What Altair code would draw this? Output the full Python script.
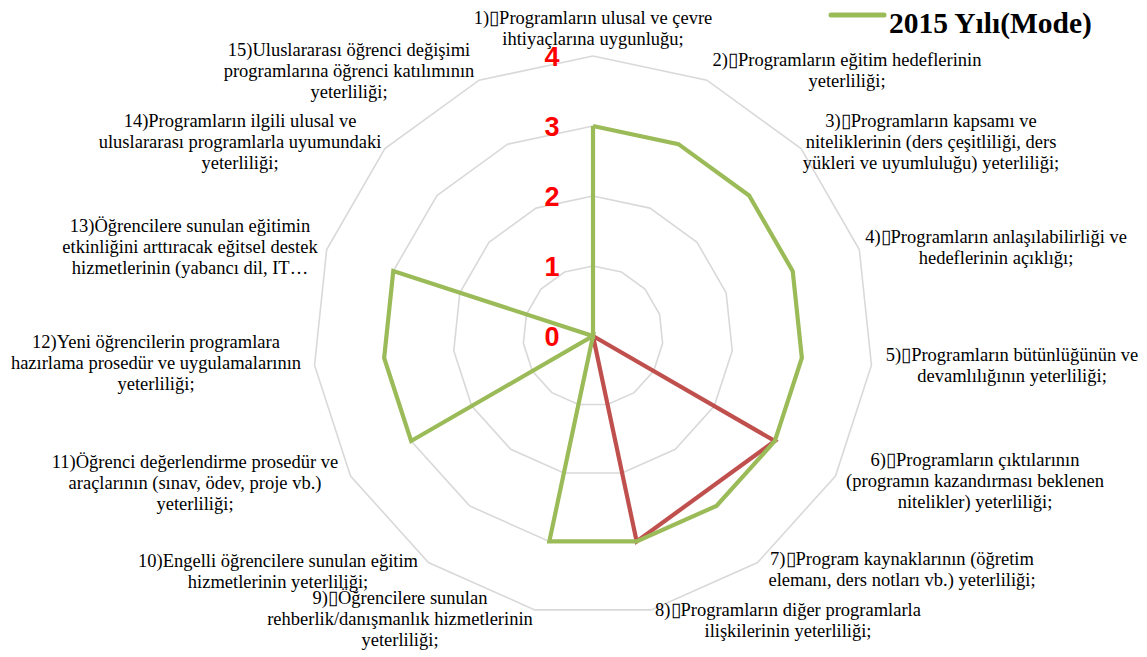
import altair as alt
import pandas as pd

BOX = "\u25af"

CATEGORIES = [
    f"1){BOX}Programların ulusal ve çevre\nihtiyaçlarına uygunluğu;",
    f"2){BOX}Programların eğitim hedeflerinin\nyeterliliği;",
    f"3){BOX}Programların kapsamı ve\nniteliklerinin (ders çeşitliliği, ders\nyükleri ve uyumluluğu) yeterliliği;",
    f"4){BOX}Programların anlaşılabilirliği ve\nhedeflerinin açıklığı;",
    f"5){BOX}Programların bütünlüğünün ve\ndevamlılığının yeterliliği;",
    f"6){BOX}Programların çıktılarının\n(programın kazandırması beklenen\nnitelikler) yeterliliği;",
    f"7){BOX}Program kaynaklarının (öğretim\nelemanı, ders notları vb.)   yeterliliği;",
    f"8){BOX}Programların diğer programlarla\nilişkilerinin yeterliliği;",
    f"9){BOX}Öğrencilere sunulan\nrehberlik/danışmanlık hizmetlerinin\nyeterliliği;",
    "10)Engelli öğrencilere sunulan eğitim\nhizmetlerinin yeterliliği;",
    "11)Öğrenci değerlendirme prosedür ve\naraçlarının (sınav, ödev, proje vb.)\nyeterliliği;",
    "12)Yeni öğrencilerin programlara\nhazırlama prosedür ve uygulamalarının\nyeterliliği;",
    "13)Öğrencilere sunulan eğitimin\netkinliğini arttıracak eğitsel destek\nhizmetlerinin (yabancı dil, IT…",
    "14)Programların ilgili ulusal ve\nuluslararası programlarla uyumundaki\nyeterliliği;",
    "15)Uluslararası öğrenci değişimi\nprogramlarına öğrenci katılımının\nyeterliliği;",
]

GREEN_2015 = [3, 3, 3, 3, 3, 3, 3, 3, 3, 0, 3, 3, 3, 0, 0]
RED_SERIES = [0, 0, 0, 0, 0, 3, None, 3, 0, 0, 0, 0, 0, 0, 0]
RING_VALUES = [1, 2, 3, 4]
TICK_LABELS = [0, 1, 2, 3, 4]
LEGEND_LABEL = "2015 Yılı(Mode)"

SERIF = "Liberation Serif, Times New Roman, serif"
SANS = "Liberation Sans, Arial, sans-serif"

# ---------------- layout (pixels on the page) ----------------
W, H = 1131, 649
PAGE_OFF = 8
CX, CY = 593 - PAGE_OFF, 336 - PAGE_OFF
UNIT = 70.0
N = len(CATEGORIES)

LABEL_ANCHORS = [  # page pixel centre of the first line of each label
    (593, 18), (847, 60), (931, 121), (996, 237), (1012, 355),
    (975, 460), (902, 559), (788, 610), (400, 598), (278, 561),
    (195, 462), (156, 342), (190, 226), (240, 121), (349, 50),
]


def ux(px):
    return (px - PAGE_OFF - CX) / UNIT


def uy(py):
    return (CY - (py - PAGE_OFF)) / UNIT


xs = alt.Scale(domain=[-CX / UNIT, (W - CX) / UNIT], nice=False, zero=False)
ys = alt.Scale(domain=[-(H - CY) / UNIT, CY / UNIT], nice=False, zero=False)

polar = dict(
    x="datum.r * sin(2 * PI * datum.idx / %d)" % N,
    y="datum.r * cos(2 * PI * datum.idx / %d)" % N,
)

# rings
ring_rows = [{"ring": v, "idx": i, "r": v} for v in RING_VALUES for i in range(N + 1)]
rings = (
    alt.Chart(pd.DataFrame(ring_rows))
    .transform_calculate(**polar)
    .mark_line(color="#D9D9D9", strokeWidth=1.6)
    .encode(
        x=alt.X("x:Q", scale=xs, axis=None),
        y=alt.Y("y:Q", scale=ys, axis=None),
        detail="ring:N",
        order="idx:Q",
    )
)


def series_rows(vals):
    rows = []
    for i in range(N + 1):
        v = vals[i % N]
        if v is None:
            continue
        rows.append({"idx": i, "r": v})
    return pd.DataFrame(rows)


def series_line(vals, color):
    return (
        alt.Chart(series_rows(vals))
        .transform_calculate(**polar)
        .mark_line(color=color, strokeWidth=4.2, strokeJoin="miter")
        .encode(
            x=alt.X("x:Q", scale=xs, axis=None),
            y=alt.Y("y:Q", scale=ys, axis=None),
            order="idx:Q",
        )
    )


red = series_line(RED_SERIES, "#C0504D")
green = series_line(GREEN_2015, "#9BBB59")

# radial tick labels
tick_df = pd.DataFrame({"v": TICK_LABELS, "lbl": [str(t) for t in TICK_LABELS]})
ticks = (
    alt.Chart(tick_df)
    .transform_calculate(tx=str(ux(552)), ty="datum.v - %f" % (1.5 / UNIT))
    .mark_text(color="#FF0000", font=SANS, fontWeight="bold", fontSize=27,
               align="center", baseline="middle")
    .encode(
        x=alt.X("tx:Q", scale=xs, axis=None),
        y=alt.Y("ty:Q", scale=ys, axis=None),
        text="lbl:N",
    )
)

# category labels
lab_df = pd.DataFrame({
    "label": CATEGORIES,
    "lx": [ux(p[0]) for p in LABEL_ANCHORS],
    "ly": [uy(p[1]) for p in LABEL_ANCHORS],
})
labels = (
    alt.Chart(lab_df)
    .mark_text(font=SERIF, fontSize=18.5, lineHeight=21, color="#000000",
               align="center", baseline="middle", lineBreak="\n")
    .encode(
        x=alt.X("lx:Q", scale=xs, axis=None),
        y=alt.Y("ly:Q", scale=ys, axis=None),
        text="label:N",
    )
)

# legend
leg_line_df = pd.DataFrame({"lx": [ux(831), ux(884)], "ly": [uy(15), uy(15)], "k": [0, 1]})
leg_line = (
    alt.Chart(leg_line_df)
    .mark_line(color="#9BBB59", strokeWidth=5, strokeCap="round")
    .encode(
        x=alt.X("lx:Q", scale=xs, axis=None),
        y=alt.Y("ly:Q", scale=ys, axis=None),
        order="k:Q",
    )
)
leg_text = (
    alt.Chart(pd.DataFrame({"t": [LEGEND_LABEL], "lx": [ux(889)], "ly": [uy(24)]}))
    .mark_text(font=SERIF, fontWeight="bold", fontSize=29.5, color="#000000",
               align="left", baseline="middle")
    .encode(
        x=alt.X("lx:Q", scale=xs, axis=None),
        y=alt.Y("ly:Q", scale=ys, axis=None),
        text="t:N",
    )
)

chart = (
    alt.layer(rings, red, green, ticks, labels, leg_line, leg_text)
    .properties(width=W, height=H, padding=0, autosize=alt.AutoSizeParams(type="none"))
    .configure_view(stroke=None)
)

chart.save("out.html", embed_options={"renderer": "svg", "actions": False})
